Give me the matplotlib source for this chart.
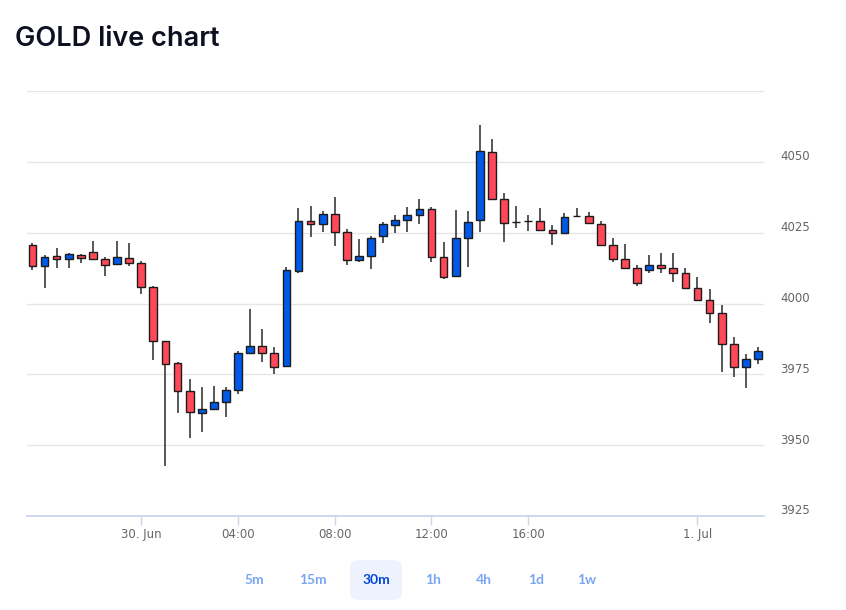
import numpy as np
import pandas as pd
import matplotlib
matplotlib.use('Agg')
import matplotlib.pyplot as plt
from matplotlib.patches import FancyBboxPatch
from matplotlib.transforms import offset_copy

# 30 min candles, daily break 23:00-00:00 removed
times = pd.date_range('2026-06-29 18:30', '2026-07-01 02:30', freq='30min')
times = times[times.hour != 23]

open_ = [4020.7, 4013.1, 4016.9, 4015.6, 4017.2, 4018.2, 4015.7, 4013.9, 4016.2, 4014.4,
         4005.8, 3986.9, 3978.9, 3969.1, 3961.4, 3962.6, 3965.1, 3969.5, 3982.6, 3985.1,
         3982.5, 3978.0, 4011.4, 4029.1, 4027.9, 4031.7, 4025.3, 4015.2, 4016.9, 4023.7,
         4027.8, 4029.6, 4031.3, 4033.5, 4016.5, 4009.6, 4023.2, 4029.6, 4053.4, 4036.8,
         4028.6, 4029.0, 4029.1, 4025.8, 4025.0, 4030.9, 4030.9, 4027.9, 4020.7, 4015.6,
         4012.6, 4011.8, 4013.5, 4012.6, 4010.6, 4005.5, 4001.3, 3996.5, 3985.6, 3977.5,
         3980.4]
high = [4021.2, 4017.0, 4019.5, 4017.9, 4017.5, 4022.2, 4016.5, 4022.2, 4021.2, 4014.9,
        4006.3, 3986.9, 3979.2, 3973.3, 3970.6, 3970.9, 3970.6, 3983.1, 3997.9, 3990.9,
        3984.7, 4013.0, 4033.6, 4034.4, 4032.5, 4037.5, 4026.2, 4022.6, 4023.8, 4028.6,
        4031.2, 4034.1, 4037.0, 4033.9, 4021.7, 4033.1, 4032.7, 4063.0, 4058.2, 4039.1,
        4034.5, 4031.2, 4033.6, 4027.7, 4031.8, 4033.6, 4032.2, 4029.2, 4023.0, 4020.9,
        4013.6, 4017.1, 4017.9, 4017.9, 4012.4, 4009.4, 4005.1, 3999.5, 3988.3, 3982.3,
        3984.5]
low = [4011.7, 4005.4, 4012.4, 4012.4, 4014.2, 4015.6, 4009.7, 4013.9, 4013.3, 4003.2,
       3979.9, 3942.6, 3961.3, 3952.4, 3954.5, 3962.4, 3960.0, 3968.0, 3982.6, 3979.4,
       3975.2, 3977.6, 4010.9, 4023.6, 4025.1, 4020.3, 4013.5, 4014.6, 4012.2, 4021.4,
       4024.8, 4025.3, 4028.2, 4014.7, 4008.6, 4009.3, 4013.0, 4025.1, 4036.9, 4021.8,
       4026.5, 4025.7, 4025.8, 4020.6, 4025.0, 4030.7, 4028.3, 4020.7, 4014.6, 4012.6,
       4006.2, 4010.9, 4010.9, 4007.7, 4005.5, 4001.3, 3993.0, 3975.7, 3974.1, 3970.1,
       3978.6]
close = [4013.1, 4016.5, 4015.6, 4017.4, 4016.2, 4015.6, 4013.6, 4016.5, 4014.4, 4005.9,
         3986.9, 3978.6, 3969.0, 3961.8, 3962.6, 3965.3, 3969.5, 3982.6, 3985.1, 3982.6,
         3977.5, 4011.8, 4029.1, 4027.9, 4031.7, 4025.3, 4015.2, 4016.9, 4023.2, 4027.9,
         4029.6, 4031.3, 4033.5, 4016.5, 4009.2, 4023.2, 4028.8, 4053.8, 4036.9, 4028.4,
         4028.6, 4029.0, 4025.8, 4025.0, 4030.4, 4030.9, 4028.3, 4020.7, 4015.6, 4012.6,
         4007.1, 4013.5, 4012.6, 4010.6, 4005.5, 4001.3, 3996.5, 3985.6, 3977.5, 3980.4,
         3983.3]

yticks = [3925, 3950, 3975, 4000, 4025, 4050, 4075]
tick_hours = [0, 4, 8, 12, 16]
buttons = ['5m', '15m', '30m', '1h', '4h', '1d', '1w']
active = '30m'

up_col = '#005ae6'
down_col = '#ff4858'
edge = '#1c1c1c'

W, H = 846, 610
fig = plt.figure(figsize=(W / 100, H / 100), dpi=100)
ax = fig.add_axes([27 / W, (H - 516) / H, (764 - 27) / W, (516 - 91) / H])

o = np.array(open_)
c = np.array(close)
x = np.arange(len(o))
cols = np.where(c > o, up_col, np.where(c < o, down_col, edge))

ax.vlines(x, low, high, color='#2a2a2a', lw=1.1, zorder=2)
ax.bar(x, c - o, bottom=o, width=0.64, color=cols, edgecolor=edge, lw=1.0, zorder=3)

ax.set_xlim(-0.45, len(o) - 0.5)
ax.set_ylim(yticks[0], yticks[-1])

ax.set_yticks(yticks)
ax.yaxis.set_tick_params(length=0, labelleft=False, labelright=False)
ax.grid(axis='y', color='#e6e6e6', lw=1.0)
ax.set_axisbelow(True)

# y labels sit on the right, slightly above the grid lines
lab_tr = offset_copy(ax.get_yaxis_transform(), fig=fig, x=16, y=5, units='dots')
for v in yticks[:-1]:
    ax.text(1.0, v, str(v), transform=lab_tr, ha='left', va='center',
            fontsize=8.5, color='#666666')

# x ticks every 4 hours (the 20:00 ones are dropped like on the site)
tpos, tlab = [], []
for i, t in enumerate(times):
    if t.minute == 0 and t.hour in tick_hours:
        tpos.append(i)
        tlab.append(f'{t.day}. {t.strftime("%b")}' if t.hour == 0 else t.strftime('%H:%M'))
ax.set_xticks(tpos)
ax.set_xticklabels(tlab)
ax.tick_params(axis='x', length=6.7, width=1, color='#ccd6eb', pad=2,
               labelsize=8.5, labelcolor='#666666')

for s in ['top', 'left', 'right']:
    ax.spines[s].set_visible(False)
ax.spines['bottom'].set_color('#ccd6eb')
ax.spines['bottom'].set_linewidth(1.3)

fig.text(15 / W, (H - 46) / H, 'GOLD live chart', fontsize=19.5, fontweight=600,
         family='Inter', color='#0d1021', va='baseline', ha='left')

# interval buttons
bx = [254, 313, 376, 433, 484, 536, 587]
for b, px in zip(buttons, bx):
    if b == active:
        fig.patches.append(FancyBboxPatch(((px - 26) / W, (H - 600) / H), 52 / W, 40 / H,
                                          boxstyle='round,pad=0,rounding_size=0.012',
                                          transform=fig.transFigure, fc='#edf2fc', ec='none'))
        clr = '#0047d6'
    else:
        clr = '#7aa6f2'
    fig.text(px / W, (H - 580) / H, b, ha='center', va='center', fontsize=10,
             fontweight='bold', family='Lato', color=clr)

fig.savefig('out.png', dpi=100)
